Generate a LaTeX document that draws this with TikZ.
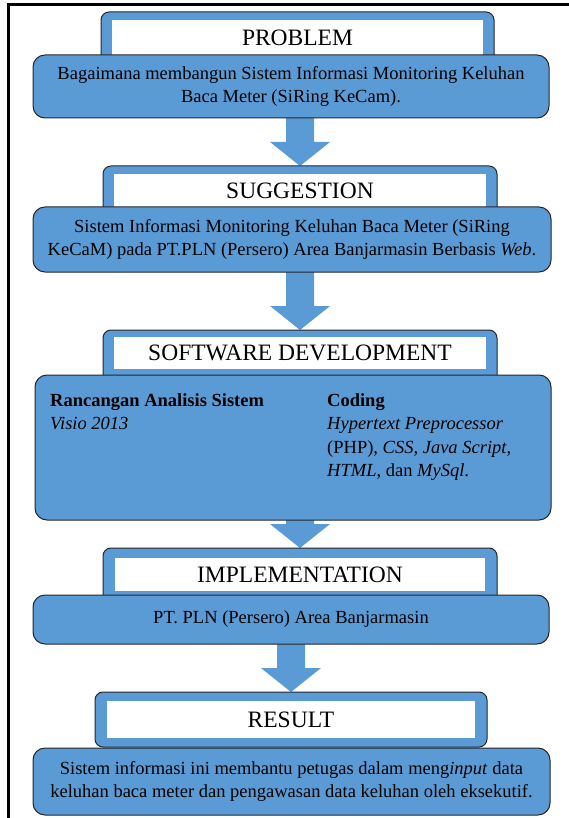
\documentclass[tikz,border=0pt]{standalone}
\usepackage{fontspec}
\setmainfont{Liberation Serif}
\usetikzlibrary{calc}
\definecolor{blu}{HTML}{5B9BD5}
\definecolor{edge}{HTML}{262626}
\newcommand\bodyfont{\fontsize{18.5}{23.5}\selectfont}
\newcommand\hdrfont{\fontsize{23.5}{28}\selectfont}
\pgfdeclarelayer{bg}
\pgfsetlayers{bg,main}
% block arrow from the bottom of a body box to the top of the next header
\newcommand\blockarrow[2]{%
  \begin{pgfonlayer}{bg}
  \fill[arw] ($(#2.north |- #1.south)+(-14,-4)$) -- ($(#2.north)+(-14,-24)$)
    -- ($(#2.north)+(-30,-24)$) -- (#2.north) -- ($(#2.north)+(30,-24)$)
    -- ($(#2.north)+(14,-24)$) -- ($(#2.north |- #1.south)+(14,-4)$) -- cycle;
  \end{pgfonlayer}}
\begin{document}
\begin{tikzpicture}[x=1pt,y=-1pt,
  hdrbox/.style={draw=edge, line width=1pt, fill=blu, rounded corners=8pt,
    anchor=north west, inner sep=0pt, outer sep=0pt},
  hdrlabel/.style={fill=white, anchor=north west, inner sep=0pt, outer sep=0pt,
    font=\hdrfont},
  bodybox/.style={draw=edge, line width=1pt, fill=blu, rounded corners=12pt,
    anchor=north west, inner sep=0pt, outer sep=0pt, align=center, font=\bodyfont},
  coltext/.style={anchor=north west, align=left, inner sep=0pt, font=\bodyfont},
  arw/.style={fill=blu}]

\useasboundingbox (0,0) rectangle (569,818);

% page frame
\draw[line width=3pt] (8,840) -- (8,5) -- (590,5);

% stage headers
\node[hdrbox, minimum width=393, minimum height=63] (h1) at (101,12) {};
\node[hdrlabel, minimum width=371, minimum height=35] (l1) at (112,20) {PROBLEM};

\node[hdrbox, minimum width=394, minimum height=59] (h2) at (103,166) {};
\node[hdrlabel, minimum width=372, minimum height=33] (l2) at (114,174) {SUGGESTION};

\node[hdrbox, minimum width=394, minimum height=55] (h3) at (103,330) {};
\node[hdrlabel, minimum width=372, minimum height=32] (l3) at (114,337) {SOFTWARE DEVELOPMENT};

\node[hdrbox, minimum width=394, minimum height=57] (h4) at (103,548) {};
\node[hdrlabel, minimum width=370, minimum height=33] (l4) at (115,558) {IMPLEMENTATION};

\node[hdrbox, minimum width=392, minimum height=55] (h5) at (95,692) {};
\node[hdrlabel, minimum width=368, minimum height=37] (l5) at (107,701) {RESULT};

% stage contents
\node[bodybox, minimum width=516, minimum height=63] (b1) at (33,55)
  {Bagaimana membangun Sistem Informasi Monitoring Keluhan\\
   Baca Meter (SiRing KeCam).};

\node[bodybox, minimum width=518, minimum height=65] (b2) at (33,207)
  {Sistem Informasi Monitoring Keluhan Baca Meter (SiRing\\
   KeCaM) pada PT.PLN (Persero) Area Banjarmasin Berbasis \textit{Web}.};

\node[bodybox, minimum width=516, minimum height=145] (b3) at (35,375) {};
\node[coltext] (c1) at (50,393)
  {\textbf{Rancangan Analisis Sistem}\\ \textit{Visio 2013}};
\node[coltext] (c2) at (327,393)
  {\textbf{Coding}\\ \textit{Hypertext Preprocessor}\\
   (PHP), \textit{CSS, Java Script},\\ \textit{HTML}, dan \textit{MySql}.};

\node[bodybox, minimum width=516, minimum height=49] (b4) at (33,595)
  {PT. PLN (Persero) Area Banjarmasin};

\node[bodybox, minimum width=517, minimum height=67] (b5) at (33,748)
  {Sistem informasi ini membantu petugas dalam meng\textit{input} data\\
   keluhan baca meter dan pengawasan data keluhan oleh eksekutif.};

% flow arrows
\blockarrow{b1}{h2}
\blockarrow{b2}{h3}
\blockarrow{b3}{h4}
\blockarrow{b4}{h5}
\end{tikzpicture}
\end{document}
